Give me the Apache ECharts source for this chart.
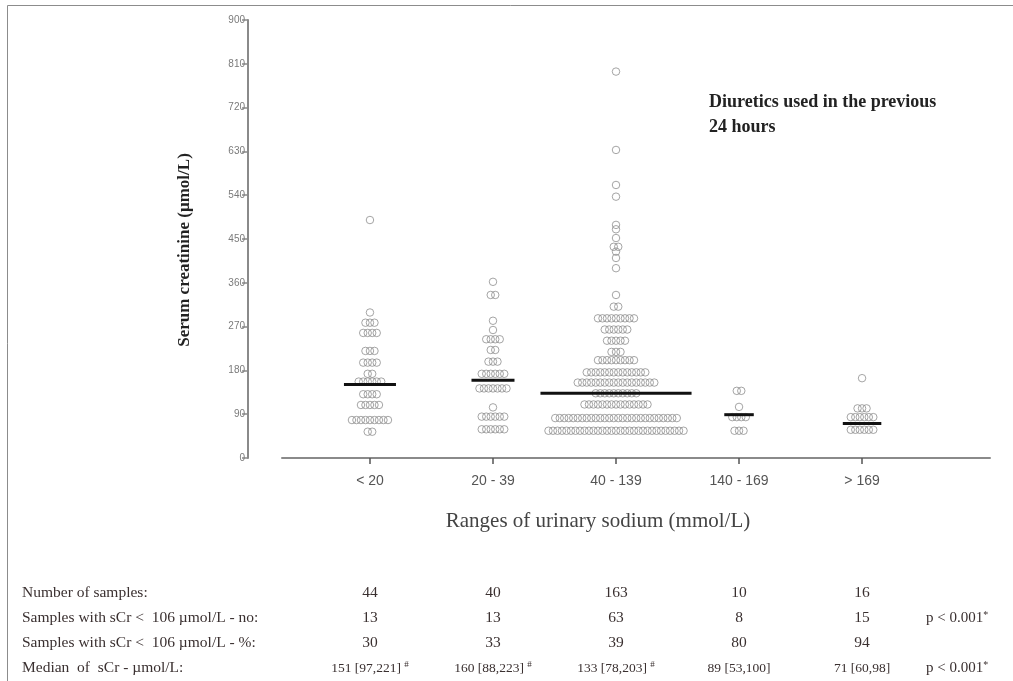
<!DOCTYPE html>
<html><head><meta charset="utf-8">
<script src="https://cdn.jsdelivr.net/npm/echarts@6/dist/echarts.min.js"></script>
<style>html,body{margin:0;padding:0;background:#fff}#c{width:1013px;height:681px}</style>
</head><body><div id="c"></div>
<script>
// ---------- data ----------
const categories = ['< 20', '20 - 39', '40 - 139', '140 - 169', '> 169'];
const yTicks = [0, 90, 180, 270, 360, 450, 540, 630, 720, 810, 900];

// serum creatinine values (µmol/L)
const groupLt20 = [489, 299, 278, 278, 278, 257, 257, 257, 257, 220, 220, 220,
  196, 196, 196, 196, 173, 173, 157, 157, 157, 157, 157, 157, 131, 131, 131, 131,
  109, 109, 109, 109, 109, 78, 78, 78, 78, 78, 78, 78, 78, 78, 54, 54];
const group20to39 = [362, 335, 335, 282, 263, 244, 244, 244, 244, 222, 222,
  198, 198, 198, 173, 173, 173, 173, 173, 173, 143, 143, 143, 143, 143, 143, 143,
  104, 85, 85, 85, 85, 85, 85, 59, 59, 59, 59, 59, 59];
const group40to139 = [794, 633, 561, 537, 479, 470, 452, 434, 434, 424, 411, 390,
  335, 311, 311,
  287, 287, 287, 287, 287, 287, 287, 287, 287,
  264, 264, 264, 264, 264, 264,
  241, 241, 241, 241, 241,
  218, 218, 218,
  201, 201, 201, 201, 201, 201, 201, 201, 201,
  176, 176, 176, 176, 176, 176, 176, 176, 176, 176, 176, 176, 176, 176,
  155, 155, 155, 155, 155, 155, 155, 155, 155, 155, 155, 155, 155, 155, 155, 155, 155, 155,
  133, 133, 133, 133, 133, 133, 133, 133, 133, 133,
  110, 110, 110, 110, 110, 110, 110, 110, 110, 110, 110, 110, 110, 110, 110,
  82, 82, 82, 82, 82, 82, 82, 82, 82, 82, 82, 82, 82, 82,
  82, 82, 82, 82, 82, 82, 82, 82, 82, 82, 82, 82, 82, 82,
  56, 56, 56, 56, 56, 56, 56, 56, 56, 56, 56, 56, 56, 56, 56, 56,
  56, 56, 56, 56, 56, 56, 56, 56, 56, 56, 56, 56, 56, 56, 56];
const group140to169 = [138, 138, 105, 84, 84, 84, 84, 56, 56, 56];
const groupGt169 = [164, 102, 102, 102, 84, 84, 84, 84, 84, 84, 58, 58, 58, 58, 58, 58];
const groups = [groupLt20, group20to39, group40to139, group140to169, groupGt169];
const medians = [151, 160, 133, 89, 71];

// table under the chart
const tableLabels = ['Number of samples:', 'Samples with sCr <  106 \u00b5mol/L - no:',
  'Samples with sCr <  106 \u00b5mol/L - %:', 'Median  of  sCr - \u00b5mol/L:'];
const nSamples = ['44', '40', '163', '10', '16'];
const nBelow106 = ['13', '13', '63', '8', '15'];
const pctBelow106 = ['30', '33', '39', '80', '94'];
const medianIqr = ['151 [97,221]', '160 [88,223]', '133 [78,203]', '89 [53,100]', '71 [60,98]'];
const medianMarks = ['#', '#', '#', '', ''];
const rowPValues = ['', 'p < 0.001', '', 'p < 0.001'];

// ---------- layout helpers ----------
const DX = 0.0366;          // horizontal spacing of dots in a row (axis units)
function swarm(values, xc) {
  const counts = {}, seen = {};
  values.forEach(v => { counts[v] = (counts[v] || 0) + 1; });
  return values.map(v => {
    const n = counts[v];
    seen[v] = seen[v] === undefined ? 0 : seen[v] + 1;
    return [xc + (seen[v] - (n - 1) / 2) * DX, v];
  });
}
function maxRow(values) {
  const c = {}; let m = 0;
  values.forEach(v => { c[v] = (c[v] || 0) + 1; m = Math.max(m, c[v]); });
  return m;
}

const chart = echarts.init(document.getElementById('c'), null, {renderer: 'canvas'});
const serif = '"Liberation Serif", "Times New Roman", serif';
const sans = '"Liberation Sans", Arial, sans-serif';

const scatterSeries = groups.map((g, i) => ({
  type: 'scatter',
  data: swarm(g, i + 1),
  symbol: 'circle',
  symbolSize: 7.5,
  itemStyle: {color: 'rgba(0,0,0,0)', borderColor: '#8f8f8f', borderWidth: 1},
  silent: true,
  z: 3
}));

const medianSeries = {
  type: 'custom',
  silent: true,
  z: 5,
  data: medians.map((m, i) => [i + 1, m, ((maxRow(groups[i]) - 1) * DX) / 2 + 0.065]),
  renderItem: (params, api) => {
    const x = api.value(0), m = api.value(1), hw = api.value(2);
    const p1 = api.coord([x - hw, m]), p2 = api.coord([x + hw, m]);
    return {type: 'line', shape: {x1: p1[0], y1: p1[1], x2: p2[0], y2: p2[1]},
      style: {stroke: '#111', lineWidth: 3}};
  }
};

chart.setOption({
  animation: false,
  backgroundColor: '#fff',
  grid: {left: 282, right: 23, top: 20, bottom: 223},
  xAxis: {
    type: 'value', min: 0.285, max: 6.04,
    splitLine: {show: false},
    axisLine: {lineStyle: {color: '#8a8a8a', width: 2}},
    axisTick: {show: true, length: 6, customValues: [1, 2, 3, 4, 5], lineStyle: {color: '#555', width: 1.5}},
    axisLabel: {customValues: [1, 2, 3, 4, 5], margin: 16, fontSize: 14, color: '#555', fontFamily: sans,
      formatter: v => categories[Math.round(v) - 1] || ''}
  },
  yAxis: {
    type: 'value', min: 0, max: 900, interval: 90, offset: 34,
    splitLine: {show: false},
    axisLine: {show: true, lineStyle: {color: '#8a8a8a', width: 2}},
    axisTick: {show: true, length: 6, lineStyle: {color: '#8a8a8a', width: 1.5}},
    axisLabel: {fontSize: 10, color: '#7a7a7a', margin: 3, fontFamily: sans,
      customValues: yTicks}
  },
  series: [...scatterSeries, medianSeries]
});

// ---------- texts ----------
const colX = categories.map((c, i) => chart.convertToPixel({xAxisIndex: 0}, i + 1));
const rowY = [593, 618, 643, 668];
const graphics = [
  {type: 'rect', shape: {x: 7.5, y: 5.5, width: 1020, height: 700},
    style: {fill: 'none', stroke: '#8c8c8c', lineWidth: 1}, silent: true},
  {type: 'text', x: 185, y: 250, rotation: Math.PI / 2,
    style: {text: 'Serum creatinine (\u00b5mol/L)', font: 'bold 17px ' + serif, fill: '#222',
      textAlign: 'center', textVerticalAlign: 'middle'}},
  {type: 'text', x: 598, y: 521,
    style: {text: 'Ranges of urinary sodium (mmol/L)', font: '21px ' + serif, fill: '#444',
      textAlign: 'center', textVerticalAlign: 'middle'}},
  {type: 'text', x: 709, y: 102,
    style: {text: 'Diuretics used in the previous', font: 'bold 18px ' + serif, fill: '#222',
      textAlign: 'left', textVerticalAlign: 'middle'}},
  {type: 'text', x: 709, y: 127,
    style: {text: '24 hours', font: 'bold 18px ' + serif, fill: '#222',
      textAlign: 'left', textVerticalAlign: 'middle'}}
];
tableLabels.forEach((t, r) => graphics.push({type: 'text', x: 22, y: rowY[r],
  style: {text: t, font: '15.5px ' + serif, fill: '#3a3030', textAlign: 'left', textVerticalAlign: 'middle'}}));
[nSamples, nBelow106, pctBelow106].forEach((row, r) => row.forEach((t, i) => graphics.push({
  type: 'text', x: colX[i], y: rowY[r],
  style: {text: t, font: '15.5px ' + serif, fill: '#3a3030', textAlign: 'center', textVerticalAlign: 'middle'}})));
medianIqr.forEach((t, i) => graphics.push({
  type: 'text', x: colX[i], y: rowY[3],
  style: {text: t + (medianMarks[i] ? ' {s|' + medianMarks[i] + '}' : ''),
    font: '13.5px ' + serif, fill: '#3a3030', textAlign: 'center', textVerticalAlign: 'middle',
    rich: {s: {fontSize: 9, fontFamily: serif, fill: '#3a3030', verticalAlign: 'top', padding: [0, 0, 6, 0]}}}}));
rowPValues.forEach((t, r) => { if (t) graphics.push({type: 'text', x: 926, y: rowY[r],
  style: {text: t + '{s|*}', font: '15px ' + serif, fill: '#3a3030', textAlign: 'left', textVerticalAlign: 'middle',
    rich: {s: {fontSize: 10, fontFamily: serif, fill: '#3a3030', padding: [0, 0, 6, 0]}}}}); });

chart.setOption({graphic: graphics});
</script>
</body></html>
